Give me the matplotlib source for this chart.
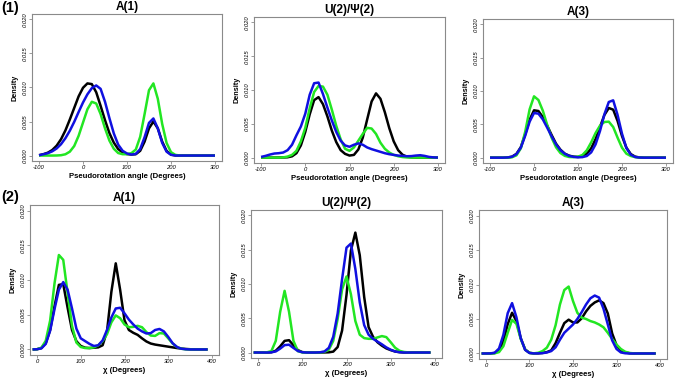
import matplotlib
matplotlib.use("Agg")
import matplotlib.pyplot as plt

plt.rcParams['font.family'] = ['Liberation Sans', 'DejaVu Sans']

W, H = 676, 383

# sample grids (degrees) for the density curves
pseudo_x = list(range(-100, 301, 10))
chi_x = list(range(-10, 391, 10))

# densities, in units of 1e-3
# row (1): pseudorotation angle
p1_black = [0.05, 0.2, 0.42, 0.81, 1.45, 2.4, 3.7, 5.3, 7.0, 8.7,
            9.96, 10.6, 10.5, 9.3, 7.3, 5.2, 3.3, 1.9, 0.95, 0.45,
            0.22, 0.15, 0.2, 0.7, 2.05, 4.0, 5.0, 4.0, 2.05, 0.68,
            0.14, 0.02, 0, 0, 0, 0, 0, 0, 0, 0, 0]
p1_green = [0, 0, 0, 0, 0.01, 0.05, 0.19, 0.57, 1.4, 2.9,
            4.85, 6.8, 7.9, 7.65, 6.1, 4.0, 2.2, 1.0, 0.37, 0.2,
            0.2, 0.35, 0.88, 2.75, 6.1, 9.6, 10.6, 8.35, 4.65, 1.85,
            0.5, 0.1, 0.01, 0, 0, 0, 0, 0, 0, 0, 0]
p1_blue = [0.05, 0.19, 0.35, 0.62, 1.04, 1.67, 2.55, 3.65, 4.95, 6.4,
           7.8, 9.0, 9.9, 10.3, 9.8, 7.9, 5.5, 3.25, 1.6, 0.7,
           0.3, 0.15, 0.24, 0.96, 2.7, 4.8, 5.45, 4.0, 1.87, 0.57,
           0.11, 0.01, 0, 0, 0, 0, 0, 0, 0, 0, 0]

p2_black = [0, 0, 0, 0, 0.01, 0.02, 0.05, 0.19, 0.65, 1.8,
            3.8, 6.4, 8.5, 8.95, 7.9, 6.1, 4.0, 2.3, 1.1, 0.55,
            0.3, 0.4, 1.2, 2.95, 5.65, 8.3, 9.5, 8.7, 6.7, 4.35,
            2.4, 1.1, 0.42, 0.13, 0.04, 0, 0, 0, 0, 0, 0]
p2_green = [0, 0, 0, 0, 0, 0.03, 0.15, 0.4, 1.0, 2.4,
            4.4, 7.3, 9.7, 10.6, 10.5, 9.3, 7.1, 4.7, 2.7, 1.3,
            1.0, 1.5, 2.5, 3.5, 4.4, 4.3, 3.5, 2.2, 1.3, 0.75,
            0.4, 0.2, 0.08, 0.02, 0, 0, 0, 0, 0, 0, 0]
p2_blue = [0.1, 0.25, 0.45, 0.6, 0.65, 0.75, 1.1, 1.9, 3.3, 4.6,
           6.5, 9.3, 11.0, 11.1, 9.4, 7.4, 5.5, 3.8, 2.5, 1.8,
           1.6, 1.9, 2.1, 1.9, 1.5, 1.25, 1.05, 0.85, 0.65, 0.5,
           0.4, 0.3, 0.25, 0.2, 0.22, 0.3, 0.35, 0.25, 0.1, 0.03, 0]

p3_black = [0, 0, 0, 0, 0.03, 0.15, 0.56, 1.58, 3.5, 5.7,
            7.1, 7.0, 6.1, 4.8, 3.4, 2.1, 1.2, 0.6, 0.3, 0.15,
            0.11, 0.22, 0.6, 1.4, 2.8, 4.6, 6.4, 7.45, 7.2, 5.5,
            3.25, 1.5, 0.54, 0.15, 0.03, 0, 0, 0, 0, 0, 0]
p3_green = [0, 0, 0, 0, 0, 0.06, 0.35, 1.4, 3.9, 7.25,
            9.2, 8.65, 7.05, 4.9, 3.0, 1.57, 0.7, 0.27, 0.1, 0.08,
            0.15, 0.4, 1.1, 2.3, 3.7, 4.8, 5.35, 5.4, 4.6, 3.0,
            1.5, 0.6, 0.25, 0.08, 0.02, 0, 0, 0, 0, 0, 0]
p3_blue = [0, 0, 0, 0, 0.03, 0.14, 0.53, 1.5, 3.3, 5.4,
           6.7, 6.6, 5.75, 4.5, 3.2, 2.0, 1.13, 0.57, 0.26, 0.12,
           0.05, 0.08, 0.25, 0.8, 2.0, 4.0, 6.5, 8.35, 8.6, 6.4,
           3.6, 1.45, 0.44, 0.1, 0.02, 0, 0, 0, 0, 0, 0]

# row (2): chi angle
p4_black = [0, 0.03, 0.2, 0.9, 2.8, 6.2, 9.3, 9.4, 6.0, 2.8,
            1.2, 0.5, 0.25, 0.2, 0.25, 0.3, 0.6, 2.6, 8.3, 12.4,
            8.6, 4.2, 2.8, 2.4, 2.1, 1.6, 1.15, 0.85, 0.7, 0.6,
            0.5, 0.4, 0.3, 0.2, 0.12, 0.07, 0.03, 0.01, 0, 0, 0]
p4_green = [0, 0.03, 0.25, 1.25, 4.15, 9.5, 13.6, 12.9, 8.1, 3.4,
            1.0, 0.35, 0.2, 0.2, 0.3, 0.6, 1.2, 2.2, 3.9, 4.9,
            4.5, 3.6, 3.2, 3.25, 3.4, 3.2, 2.5, 2.0, 1.95, 2.35,
            2.3, 1.6, 0.85, 0.35, 0.1, 0.02, 0, 0, 0, 0, 0]
p4_blue = [0, 0.03, 0.15, 0.8, 2.7, 5.8, 8.6, 9.7, 8.6, 5.9,
           3.0, 1.6, 1.2, 0.8, 0.5, 0.6, 1.3, 2.8, 4.6, 5.9,
           6.0, 5.2, 4.3, 3.6, 3.0, 2.6, 2.3, 2.35, 2.8, 2.95,
           2.6, 1.8, 0.9, 0.35, 0.1, 0.03, 0, 0, 0, 0, 0]

p5_black = [0, 0, 0, 0, 0.04, 0.26, 0.9, 1.7, 1.8, 1.06,
            0.35, 0.06, 0.01, 0, 0, 0, 0.01, 0.03, 0.13, 0.8,
            3.2, 8.4, 14.9, 17.5, 14.2, 8.1, 3.7, 2.3, 1.5, 1.0,
            0.6, 0.35, 0.15, 0.05, 0.01, 0, 0, 0, 0, 0, 0]
p5_green = [0, 0, 0, 0.03, 0.2, 1.7, 5.95, 9.0, 5.95, 1.7,
            0.2, 0.02, 0, 0, 0, 0.02, 0.1, 0.4, 1.7, 4.9,
            9.2, 11.1, 8.5, 4.6, 2.6, 2.1, 2.0, 2.0, 2.2, 2.4,
            2.25, 1.5, 0.7, 0.25, 0.08, 0.02, 0, 0, 0, 0, 0]
p5_blue = [0, 0, 0, 0, 0.03, 0.16, 0.57, 1.08, 1.14, 0.67,
           0.22, 0.04, 0, 0, 0, 0.03, 0.15, 0.68, 2.3, 5.7,
           10.7, 15.3, 15.9, 12.2, 7.3, 4.0, 2.6, 2.0, 1.6, 1.2,
           0.75, 0.4, 0.15, 0.05, 0, 0, 0, 0, 0, 0, 0]

p6_black = [0, 0, 0.01, 0.06, 0.42, 1.75, 4.25, 5.9, 4.7, 2.2,
            0.58, 0.09, 0.01, 0.02, 0.08, 0.2, 0.45, 1.5, 3.0, 4.4,
            4.9, 4.5, 4.5, 5.1, 6.1, 6.9, 7.4, 7.7, 7.3, 5.8,
            2.9, 1.2, 0.45, 0.15, 0.04, 0, 0, 0, 0, 0, 0]
p6_green = [0, 0, 0, 0.02, 0.2, 1.05, 3.0, 4.87, 4.3, 2.1,
            0.57, 0.09, 0.02, 0.1, 0.35, 0.85, 2.0, 4.1, 7.1, 9.2,
            9.7, 7.6, 5.9, 5.2, 5.0, 4.7, 4.5, 4.2, 3.8, 3.0,
            2.1, 1.3, 0.65, 0.25, 0.07, 0.02, 0, 0, 0, 0, 0]
p6_blue = [0, 0, 0.01, 0.11, 0.72, 2.7, 5.85, 7.3, 5.25, 2.2,
           0.52, 0.07, 0.01, 0.02, 0.05, 0.15, 0.35, 0.9, 2.0, 3.0,
           3.6, 4.2, 5.0, 6.0, 7.1, 8.0, 8.4, 8.1, 6.5, 4.2,
           1.9, 0.65, 0.15, 0.03, 0, 0, 0, 0, 0, 0, 0]

titles = ['A(1)', 'U(2)/Ψ(2)', 'A(3)']
pseudo_label = 'Pseudorotation angle (Degrees)'
chi_label = 'χ (Degrees)'
pseudo_ticks = [-100, 0, 100, 200, 300]
chi_ticks = [0, 100, 200, 300, 400]
y_ticks = [0.000, 0.005, 0.010, 0.015, 0.020]
y_ticklabels = ['0.000', '0.005', '0.010', '0.015', '0.020']

BLACK, GREEN, BLUE = '#000000', '#22e622', '#1010e0'
GRAY = '#8a8a8a'

# axes boxes in pixels: left, top, right, bottom
boxes = [(32, 14, 222, 161), (254, 17, 445, 163), (483, 19, 673, 163),
         (30, 205, 219, 355), (251, 210, 442, 358), (479, 210, 667, 359)]

panels = [
    (pseudo_x, p1_black, p1_green, p1_blue, titles[0], pseudo_label, pseudo_ticks, (-116, 316)),
    (pseudo_x, p2_black, p2_green, p2_blue, titles[1], pseudo_label, pseudo_ticks, (-116, 316)),
    (pseudo_x, p3_black, p3_green, p3_blue, titles[2], pseudo_label, pseudo_ticks, (-116, 316)),
    (chi_x, p4_black, p4_green, p4_blue, titles[0], chi_label, chi_ticks, (-16, 416)),
    (chi_x, p5_black, p5_green, p5_blue, titles[1], chi_label, chi_ticks, (-16, 416)),
    (chi_x, p6_black, p6_green, p6_blue, titles[2], chi_label, chi_ticks, (-16, 416)),
]

fig = plt.figure(figsize=(W / 100, H / 100), dpi=100)

for (l, t, r, b), (x, blk, grn, blu, title, xlabel, xticks, xlim) in zip(boxes, panels):
    ax = fig.add_axes([l / W, 1 - b / H, (r - l) / W, (b - t) / H])
    for ys, c in ((blk, BLACK), (grn, GREEN), (blu, BLUE)):
        ax.plot(x, [v * 1e-3 for v in ys], color=c, lw=1.8, solid_capstyle='butt')
    ax.set_xlim(*xlim)
    ax.set_ylim(-0.0008, 0.0208)
    ax.set_xticks(xticks)
    ax.set_xticklabels([str(v) for v in xticks], fontsize=4.2, style='italic')
    ax.set_yticks(y_ticks)
    ax.set_yticklabels(y_ticklabels, fontsize=4.2, style='italic',
                       rotation=90, va='center')
    ax.tick_params(length=2.2, width=0.6, color=GRAY, pad=0.6)
    for s in ax.spines.values():
        s.set_color(GRAY)
        s.set_linewidth(0.8)
    ax.set_title(title, fontsize=8.5, fontweight='bold', pad=3)
    ax.set_xlabel(xlabel, fontsize=5.6, fontweight='bold', labelpad=2.5)
    ax.set_ylabel('Density', fontsize=5.2, fontweight='bold', labelpad=3.5)

fig.text(1 / W, 1 - 8 / H, '(1)', fontsize=10.5, fontweight='bold', ha='left', va='center')
fig.text(1 / W, 1 - 197 / H, '(2)', fontsize=10.5, fontweight='bold', ha='left', va='center')

fig.savefig('out.png', dpi=100)
